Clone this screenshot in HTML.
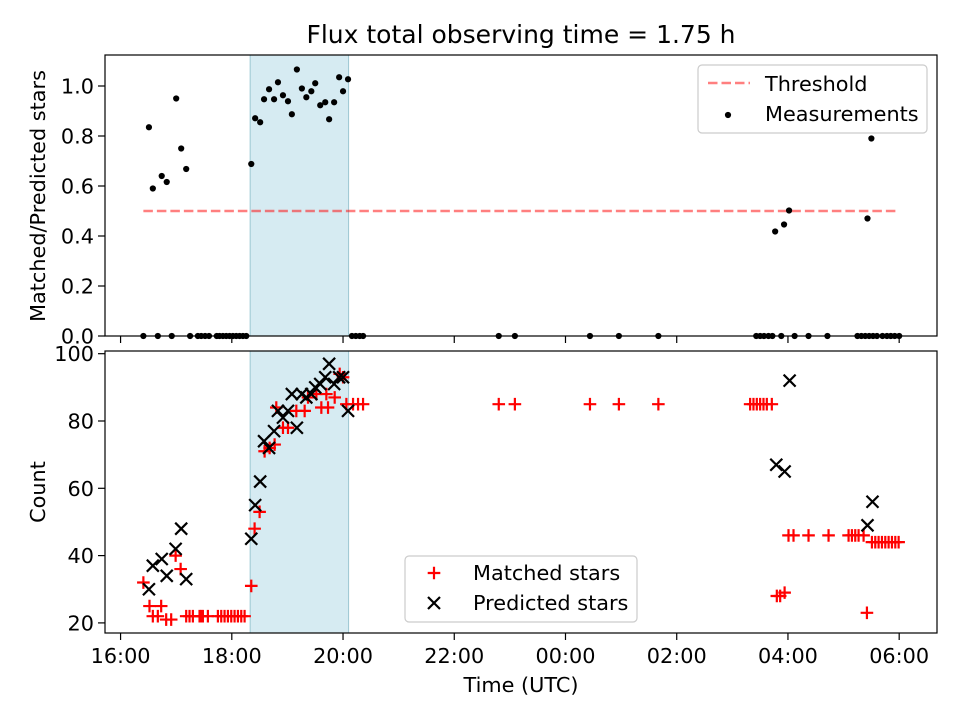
<!DOCTYPE html>
<html><head><meta charset="utf-8">
<style>
html,body{margin:0;padding:0;background:#fff;}
svg{display:block;font-family:"DejaVu Sans","Liberation Sans",sans-serif;}
</style></head>
<body>
<svg id="chart" width="960" height="720" viewBox="0 0 960 720" xmlns="http://www.w3.org/2000/svg">
<text x="521" y="43" font-size="25" text-anchor="middle">Flux total observing time = 1.75 h</text>
<g id="topPanel"></g>
<g id="botPanel"></g>
<text x="521" y="692" font-size="20.8" text-anchor="middle">Time (UTC)</text>
<text transform="translate(45,196) rotate(-90)" font-size="20.8" text-anchor="middle">Matched/Predicted stars</text>
<text transform="translate(45,492) rotate(-90)" font-size="20.8" text-anchor="middle">Count</text>
</svg>
<script>
// hours after 16:00
const xTickVals = [0, 2, 4, 6, 8, 10, 12, 14];
const xTickLabels = ["16:00","18:00","20:00","22:00","00:00","02:00","04:00","06:00"];
const topYTicks = [0, 0.2, 0.4, 0.6, 0.8, 1.0];
const botYTicks = [20, 40, 60, 80, 100];
const shadeStart = 2.33, shadeEnd = 4.10;
const threshold = 0.5, thrStart = 0.41, thrEnd = 14.0;

const ratioTimes = [0.51,0.58,0.74,0.83,1.00,1.09,1.18,2.35,2.42,2.51,2.58,2.67,2.76,2.83,2.92,3.01,3.08,3.17,3.26,3.34,3.43,3.50,3.59,3.68,3.75,3.84,3.93,4.00,4.09,11.77,11.93,12.02,13.43,13.50,
 0.41,0.67,0.92,1.25,1.39,1.45,1.52,1.59,1.73,1.78,1.84,1.90,1.96,2.02,2.08,2.14,2.20,2.26,4.16,4.23,4.30,4.36,6.80,7.09,8.44,8.96,9.67,11.43,11.50,11.57,11.65,11.72,11.88,12.12,12.37,12.71,13.25,13.32,13.39,13.46,13.53,13.60,13.70,13.78,13.85,13.92,14.00];
const ratioValues = [0.835,0.59,0.64,0.616,0.95,0.75,0.668,0.688,0.871,0.855,0.947,0.987,0.947,1.015,0.963,0.939,0.887,1.066,0.99,0.955,0.979,1.011,0.923,0.935,0.867,0.935,1.035,0.979,1.027,0.418,0.446,0.502,0.47,0.79,
 0,0,0,0,0,0,0,0,0,0,0,0,0,0,0,0,0,0,0,0,0,0,0,0,0,0,0,0,0,0,0,0,0,0,0,0,0,0,0,0,0,0,0,0,0,0,0];

const matchedTimes = [0.41,0.52,0.73,0.58,0.67,0.82,0.91,0.99,1.08,
 1.18,1.24,1.30,1.42,1.45,1.48,1.57,1.75,1.81,1.87,1.93,1.99,2.05,2.11,2.17,2.23,
 2.35,2.41,2.50,2.59,2.68,2.77,2.80,2.92,3.01,3.16,3.31,3.37,3.52,3.61,3.73,3.70,3.85,3.94,4.00,4.06,4.18,4.27,4.36,
 6.80,7.09,8.44,8.96,9.67,11.32,11.38,11.44,11.50,11.56,11.62,11.71,
 11.80,11.86,11.94,12.01,12.10,12.37,12.73,13.09,13.15,13.21,13.27,13.36,13.42,
 13.51,13.57,13.63,13.69,13.75,13.81,13.87,13.93,13.99];
const matchedCounts = [32,25,25,22,22,21,21,40,36,
 22,22,22,22,22,22,22,22,22,22,22,22,22,22,22,22,
 31,48,53,71,72,73,84,78,78,83,83,87,88,84,84,88,87,94,93,85,85,85,85,
 85,85,85,85,85,85,85,85,85,85,85,85,
 28,28,29,46,46,46,46,46,46,46,46,46,23,
 44,44,44,44,44,44,44,44,44];

const predictedTimes = [0.51,0.58,0.74,0.83,0.99,1.09,1.18,2.35,2.42,2.51,2.58,2.67,2.76,2.83,2.92,3.01,3.17,3.08,3.26,3.34,3.43,3.50,3.59,3.68,3.75,3.84,3.93,4.00,4.09,11.79,11.94,12.03,13.43,13.52];
const predictedCounts = [30,37,39,34,42,48,33,45,55,62,74,72,77,83,81,83,78,88,88,87,88,90,91,93,97,91,93,93,83,67,65,92,49,56];

const NS = "http://www.w3.org/2000/svg";
const L = 105, R = 937;
const xMin = -0.28, xMax = 14.68;
function xs(h){ return L + (h - xMin) / (xMax - xMin) * (R - L); }
const T1 = 55, B1 = 336, topMax = 1.124;
function ysTop(v){ return B1 - v / topMax * (B1 - T1); }
const T2 = 351, B2 = 633, botMin = 17, botMax = 100.8;
function ysBot(v){ return B2 - (v - botMin) / (botMax - botMin) * (B2 - T2); }

function mk(parent, tag, attrs){
  const e = document.createElementNS(NS, tag);
  for (const k in attrs) e.setAttribute(k, attrs[k]);
  parent.appendChild(e);
  return e;
}
const topG = document.getElementById('topPanel');
const botG = document.getElementById('botPanel');

function panel(g, T, B, ys, yTicks, fmt, showX, prefix){
  const sh = mk(g, 'rect', {x: xs(shadeStart), y: T, width: xs(shadeEnd)-xs(shadeStart), height: B-T, fill: '#add8e6', 'fill-opacity': 0.5, stroke: '#9cc7d2', 'stroke-width': 1});
  
  
  yTicks.forEach(v => {
    const y = ys(v);
    const t = mk(g, 'line', {x1: L-7, x2: L, y1: y, y2: y, stroke: '#000', 'stroke-width': 1.2});
    
    
    const tx = mk(g, 'text', {x: L-11, y: y+7.5, 'font-size': 20.8, 'text-anchor': 'end'});
    tx.textContent = fmt(v);
    
    
  });
  xTickVals.forEach((v, i) => {
    const x = xs(v);
    const t = mk(g, 'line', {x1: x, x2: x, y1: B, y2: B+7, stroke: '#000', 'stroke-width': 1.2});
    
    
    if (showX) {
      const tx = mk(g, 'text', {x: x, y: B+30, 'font-size': 20.8, 'text-anchor': 'middle'});
      tx.textContent = xTickLabels[i];
      
      
    }
  });
}
panel(topG, T1, B1, ysTop, topYTicks, v => v.toFixed(1), false, 'top');
panel(botG, T2, B2, ysBot, botYTicks, v => String(v), true, 'bottom');

const thr = mk(topG, 'line', {x1: xs(thrStart), x2: xs(thrEnd), y1: ysTop(threshold), y2: ysTop(threshold), stroke: '#ff0000', 'stroke-opacity': 0.5, 'stroke-width': 2.5, 'stroke-dasharray': '9.5,4'});



ratioTimes.forEach((t, i) => {
  const c = mk(topG, 'circle', {cx: xs(t), cy: ysTop(ratioValues[i]), r: 3.1, fill: '#000'});
  
  
});

function plus(g, x, y, s){
  return mk(g, 'path', {d: `M${x-s},${y}H${x+s}M${x},${y-s}V${y+s}`, stroke: '#ff0000', 'stroke-width': 2.2, fill: 'none'});
}
function cross(g, x, y, s){
  return mk(g, 'path', {d: `M${x-s},${y-s}L${x+s},${y+s}M${x-s},${y+s}L${x+s},${y-s}`, stroke: '#000', 'stroke-width': 2.2, fill: 'none'});
}
matchedTimes.forEach((t, i) => {
  const p = plus(botG, xs(t), ysBot(matchedCounts[i]), 6.3);
  
  
});
predictedTimes.forEach((t, i) => {
  const p = cross(botG, xs(t), ysBot(predictedCounts[i]), 6);
  
  
});

[[topG, T1, B1, 'top'], [botG, T2, B2, 'bottom']].forEach(([g, T, B, pf]) => {
  const s = mk(g, 'rect', {x: L, y: T, width: R-L, height: B-T, fill: 'none', stroke: '#000', 'stroke-width': 1.2});
  
  
});

const lg1 = mk(topG, 'g', {});


mk(lg1, 'rect', {x: 698, y: 65, width: 229, height: 68, rx: 4, fill: '#fff', 'fill-opacity': 0.8, stroke: '#ccc', 'stroke-width': 1.2});
mk(lg1, 'line', {x1: 708, x2: 750, y1: 83, y2: 83, stroke: '#ff0000', 'stroke-opacity': 0.5, 'stroke-width': 2.5, 'stroke-dasharray': '9.5,4'});
const lt1 = mk(lg1, 'text', {x: 765, y: 91, 'font-size': 20.8}); lt1.textContent = 'Threshold';


mk(lg1, 'circle', {cx: 728, cy: 115, r: 3.1, fill: '#000'});
const lt2 = mk(lg1, 'text', {x: 765, y: 121, 'font-size': 20.8}); lt2.textContent = 'Measurements';



const lg2 = mk(botG, 'g', {});


mk(lg2, 'rect', {x: 405, y: 556, width: 232, height: 66, rx: 4, fill: '#fff', 'fill-opacity': 0.8, stroke: '#ccc', 'stroke-width': 1.2});
plus(lg2, 434, 573, 6.3);
const lt3 = mk(lg2, 'text', {x: 473, y: 580, 'font-size': 20.8}); lt3.textContent = 'Matched stars';


cross(lg2, 434, 603, 6);
const lt4 = mk(lg2, 'text', {x: 473, y: 610, 'font-size': 20.8}); lt4.textContent = 'Predicted stars';


</script>
</body></html>
